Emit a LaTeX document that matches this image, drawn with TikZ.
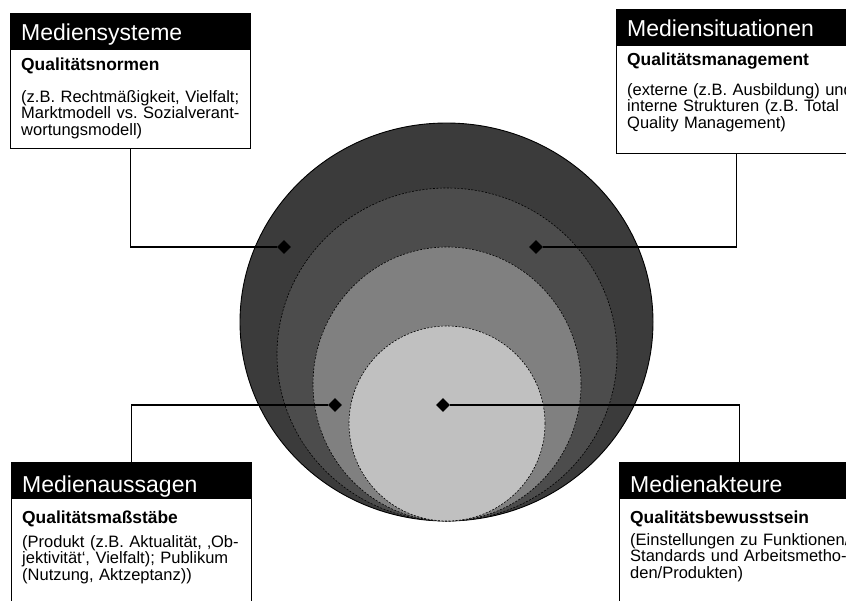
\documentclass[tikz,border=0pt]{standalone}
\usepackage{fontspec}
\setmainfont{Liberation Sans}
\frenchspacing
\usetikzlibrary{calc,positioning,shapes.geometric}
\definecolor{ringA}{HTML}{3B3B3B}
\definecolor{ringB}{HTML}{4C4C4C}
\definecolor{ringC}{HTML}{808080}
\definecolor{ringD}{HTML}{C0C0C0}
\tikzset{
  boxframe/.style={draw, fill=white, line width=0.8pt, anchor=north west, minimum width=240pt, inner sep=0pt},
  boxhead/.style={fill=black, text=white, anchor=north west, font=\fontsize{23}{26}\selectfont,
    minimum width=240pt, minimum height=36.5pt, text width=218pt, inner xsep=11pt, inner ysep=0pt,
    align=left, text height=17.5pt, text depth=0pt},
  boxsub/.style={anchor=base west, font=\bfseries\fontsize{17.4}{18}\selectfont, inner sep=0pt},
  boxbody/.style={anchor=base west, text width=260pt, align=left, font=\fontsize{16.5}{16.5}\selectfont, inner sep=0pt},
  ring/.style={draw=black, dash pattern=on 2pt off 1.5pt, line width=0.6pt},
  knot/.style={diamond, fill=black, inner sep=0pt, minimum size=14pt},
  link/.style={line width=1.3pt},
}
\begin{document}
\begin{tikzpicture}[x=1pt,y=-1pt]
\useasboundingbox (0,0) rectangle (846,600);
\clip (0,0) rectangle (846,600);
%Kreise
\draw[fill=ringA, line width=0.9pt] (446.5,322) ellipse [x radius=206.5pt, y radius=199pt];
\draw[ring, fill=ringB] (447,354.5) ellipse [x radius=170pt, y radius=166.5pt];
\draw[ring, fill=ringC] (447,384) ellipse [x radius=134pt, y radius=137pt];
\draw[ring, fill=ringD] (447,423.5) ellipse [x radius=98pt, y radius=97.5pt];
%Kasten oben links
\node[boxframe, minimum height=135pt] (fTL) at (10,13) {};
\node[boxhead] (hTL) at (fTL.north west) {Mediensysteme};
\node[boxsub] (sTL) at ($(fTL.north west)+(11,57)$) {Qualitätsnormen};
\node[boxbody] (bTL) at ($(fTL.north west)+(11,89)$) {(z.B. Rechtmäßigkeit, Vielfalt;\\Marktmodell vs. Sozialverant-\\wortungsmodell)};
%Kasten oben rechts
\node[boxframe, minimum height=144pt] (fTR) at (616,9) {};
\node[boxhead] (hTR) at (fTR.north west) {Mediensituationen};
\node[boxsub] (sTR) at ($(fTR.north west)+(11,56)$) {Qualitätsmanagement};
\node[boxbody] (bTR) at ($(fTR.north west)+(11,86)$) {(externe (z.B. Ausbildung) und\\interne Strukturen (z.B. Total\\Quality Management)};
%Kasten unten links
\node[boxframe, minimum height=200pt] (fBL) at (11,462) {};
\node[boxhead, text height=23.5pt] (hBL) at (fBL.north west) {Medienaussagen};
\node[boxsub] (sBL) at ($(fBL.north west)+(11,61)$) {Qualitätsmaßstäbe};
\node[boxbody] (bBL) at ($(fBL.north west)+(11,85)$) {(Produkt (z.B. Aktualität, ‚Ob-\\jektivität‘, Vielfalt); Publikum\\(Nutzung, Aktzeptanz))};
%Kasten unten rechts
\node[boxframe, minimum height=200pt] (fBR) at (619,462) {};
\node[boxhead, text height=23.5pt] (hBR) at (fBR.north west) {Medienakteure};
\node[boxsub] (sBR) at ($(fBR.north west)+(11,61)$) {Qualitätsbewusstsein};
\node[boxbody] (bBR) at ($(fBR.north west)+(11,83)$) {(Einstellungen zu Funktionen/\\Standards und Arbeitsmetho-\\den/Produkten)};
%Verbindungen
\node[knot] (dTL) at (284,247) {};
\node[knot] (dTR) at (536,247) {};
\node[knot] (dBL) at (335,405) {};
\node[knot] (dBR) at (443,405) {};
\draw[link] (dTL) -| (fTL.south);
\draw[link] (dTR) -| (fTR.south);
\draw[link] (dBL) -| (fBL.north);
\draw[link] (dBR) -| (fBR.north);
\end{tikzpicture}
\end{document}
